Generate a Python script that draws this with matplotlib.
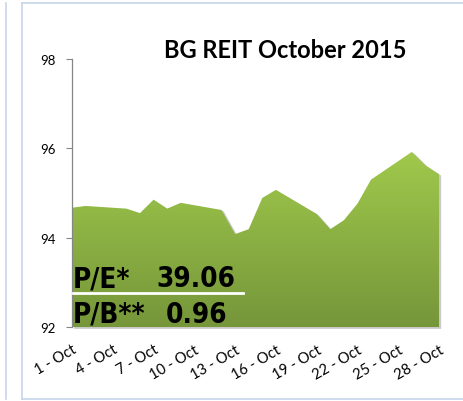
import matplotlib
matplotlib.use("Agg")
import matplotlib.pyplot as plt
import numpy as np
from matplotlib.lines import Line2D
from matplotlib.colors import LinearSegmentedColormap
from matplotlib import font_manager as fm

days = [1, 2, 5, 6, 7, 8, 9, 12, 13, 14, 15, 16, 19, 20, 21, 22, 23, 26, 27, 28]
values = [94.67, 94.71, 94.65, 94.55, 94.85, 94.65, 94.78, 94.62, 94.08, 94.19,
          94.89, 95.07, 94.53, 94.19, 94.39, 94.76, 95.30, 95.92, 95.62, 95.42]
tick_days = [1, 4, 7, 10, 13, 16, 19, 22, 25, 28]
tick_labels = ["1 - Oct", "4 - Oct", "7 - Oct", "10 - Oct", "13 - Oct",
               "16 - Oct", "19 - Oct", "22 - Oct", "25 - Oct", "28 - Oct"]
y_ticks = [92, 94, 96, 98]
title = "BG REIT October 2015"
pe_label, pe_value = "P/E*", "39.06"
pb_label, pb_value = "P/B**", "0.96"

W, H = 464, 402
fig = plt.figure(figsize=(W / 100, H / 100), dpi=100)
ax = fig.add_axes([72 / W, 1 - 328 / H, (439 - 72) / W, (328 - 60) / H])

ymin, ymax = 92, 98
ax.set_xlim(days[0], days[-1])
ax.set_ylim(ymin, ymax)

# shadow
ax.fill_between(np.array(days) + 0.12, np.array(values) - 0.02, ymin - 0.03,
                color="#c8c8c8", lw=0, zorder=1, clip_on=False)
poly = ax.fill_between(days, values, ymin, color="none", lw=0, zorder=2)
cmap = LinearSegmentedColormap.from_list("g", ["#76963a", "#a0c94c"])
grad = np.linspace(0, 1, 256).reshape(-1, 1)
im = ax.imshow(grad, cmap=cmap, origin="lower", aspect="auto",
               extent=[days[0], days[-1], ymin, max(values)], zorder=2)
path = poly.get_paths()[0]
im.set_clip_path(path, transform=ax.transData)

for s in ["top", "right", "bottom"]:
    ax.spines[s].set_visible(False)
ax.spines["left"].set_color("#868686")
ax.spines["left"].set_linewidth(0.9)
ax.set_yticks(y_ticks)
ax.set_yticklabels([str(v) for v in y_ticks], fontsize=9.5, family="Lato")
ax.tick_params(axis="y", length=4, color="#868686", pad=8)
ax.set_xticks(tick_days)
ax.set_xticklabels(tick_labels, rotation=30, ha="right", va="top",
                   rotation_mode="anchor", fontsize=10.5, family="Lato")
ax.tick_params(axis="x", length=0, pad=11)

fig.text(285 / W, 1 - 50 / H, title, ha="center", va="center",
         fontsize=17, fontweight="bold", family="Lato")

cond_fp = fm.FontProperties(family="DejaVu Sans", weight="bold",
                            stretch="condensed", size=20)
fig.text(73 / W, 1 - 287 / H, pe_label, ha="left", va="baseline", fontproperties=cond_fp)
fig.text(235 / W, 1 - 287 / H, pe_value, ha="right", va="baseline", fontproperties=cond_fp)
fig.text(73 / W, 1 - 323 / H, pb_label, ha="left", va="baseline", fontproperties=cond_fp)
fig.text(227 / W, 1 - 323 / H, pb_value, ha="right", va="baseline", fontproperties=cond_fp)
fig.add_artist(Line2D([73 / W, 243 / W], [1 - 294 / H, 1 - 294 / H],
                      color="white", lw=2, transform=fig.transFigure))

border = "#c5d6ea"
fig.add_artist(Line2D([22 / W, 22 / W], [1 - 4 / H, 1 - 400 / H], color=border, lw=1.2))
fig.add_artist(Line2D([22 / W, 1], [1 - 4 / H, 1 - 4 / H], color=border, lw=1.2))
fig.add_artist(Line2D([22 / W, 1], [1 - 400 / H, 1 - 400 / H], color=border, lw=1.2))
fig.add_artist(Line2D([6 / W, 6 / W], [1 - 4 / H, 1 - 400 / H], color=border, lw=1.2))

fig.savefig("out.png", dpi=100)
